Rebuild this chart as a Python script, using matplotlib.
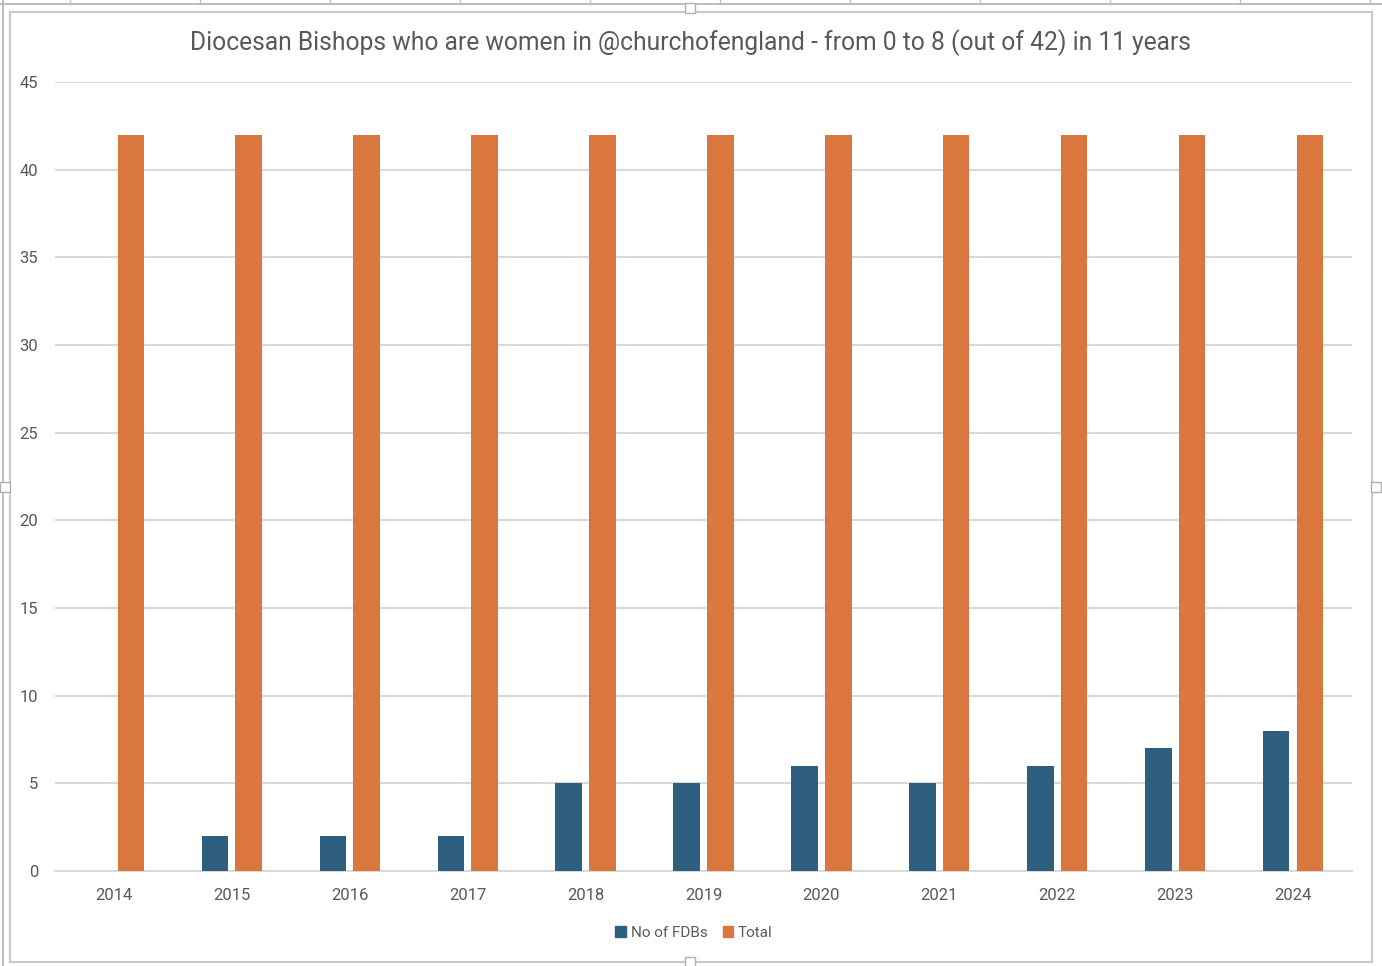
import matplotlib
matplotlib.use("Agg")
import matplotlib.pyplot as plt
import numpy as np
from matplotlib.patches import Rectangle
from matplotlib.lines import Line2D

years = ["2014", "2015", "2016", "2017", "2018", "2019", "2020", "2021", "2022", "2023", "2024"]
no_of_fdbs = [0, 2, 2, 2, 5, 5, 6, 5, 6, 7, 8]
total = [42, 42, 42, 42, 42, 42, 42, 42, 42, 42, 42]
series_names = ["No of FDBs", "Total"]
title = "Diocesan Bishops who are women in @churchofengland - from 0 to 8 (out of 42) in 11 years"

BLUE = "#2E5F7F"
ORANGE = "#D9773F"
TXT = "#595959"
GRID = "#D9D9D9"

plt.rcParams['font.family'] = ['Roboto', 'DejaVu Sans']

W, H = 1382, 966
fig = plt.figure(figsize=(W / 100, H / 100), dpi=100)

def px(x, y):
    return x / W, 1 - y / H

# frame decorations (spreadsheet screenshot style)
fig.add_artist(Rectangle(px(10, 962), (1372 - 10) / W, (962 - 12) / H, transform=fig.transFigure,
                         fill=False, edgecolor="#C8C8C8", linewidth=1.5))
fig.add_artist(Line2D([3 / W, 3 / W], [0, 1], transform=fig.transFigure, color="#B0B0B0", linewidth=1.2))
fig.add_artist(Line2D([0, 1], [1 - 4 / H, 1 - 4 / H], transform=fig.transFigure, color="#B0B0B0", linewidth=1.2))
for xv in [70, 200, 330, 460, 590, 720, 850, 980, 1110, 1240, 1370]:
    fig.add_artist(Line2D([xv / W, xv / W], [1 - 4 / H, 1], transform=fig.transFigure, color="#C0C0C0", linewidth=1))
for (hx, hy) in [(690, 8), (690, 962), (5, 487), (1376, 487)]:
    fig.add_artist(Rectangle(((hx - 5) / W, 1 - (hy + 5) / H), 10 / W, 10 / H, transform=fig.transFigure,
                             facecolor="white", edgecolor="#B0B0B0", linewidth=1, zorder=5))

ax = fig.add_axes([55 / W, 1 - 871 / H, (1352 - 55) / W, (871 - 82) / H])
x = np.arange(len(years))
bw = 0.225
off = 0.143
ax.bar(x - off, no_of_fdbs, width=bw, color=BLUE, label=series_names[0], zorder=3)
ax.bar(x + off, total, width=bw, color=ORANGE, label=series_names[1], zorder=3)

ax.set_xlim(-0.5, len(years) - 0.5)
ax.set_ylim(0, 45)
ax.set_yticks(np.arange(0, 46, 5))
ax.set_xticks(x)
ax.set_xticklabels(years)
ax.yaxis.grid(True, color=GRID, linewidth=1.5, zorder=0)
ax.set_axisbelow(True)
for s in ["top", "right", "left"]:
    ax.spines[s].set_visible(False)
ax.spines["bottom"].set_color(GRID)
ax.spines["bottom"].set_linewidth(1.5)
ax.tick_params(axis="both", length=0, colors=TXT, labelsize=12)
ax.tick_params(axis="y", pad=12)
ax.tick_params(axis="x", pad=12.5)

fig.text(690 / W, 1 - 43 / H, title, ha="center", va="center", fontsize=17.75, color=TXT)

handles = [Rectangle((0, 0), 1, 1, color=BLUE), Rectangle((0, 0), 1, 1, color=ORANGE)]
fig.legend(handles, series_names, loc="center", bbox_to_anchor=(694 / W, 1 - 933 / H), ncol=2,
           frameon=False, fontsize=11, labelcolor=TXT, handlelength=0.7, handleheight=0.7,
           handletextpad=0.3, columnspacing=1.0)

fig.savefig("out.png", dpi=100, facecolor="white")
